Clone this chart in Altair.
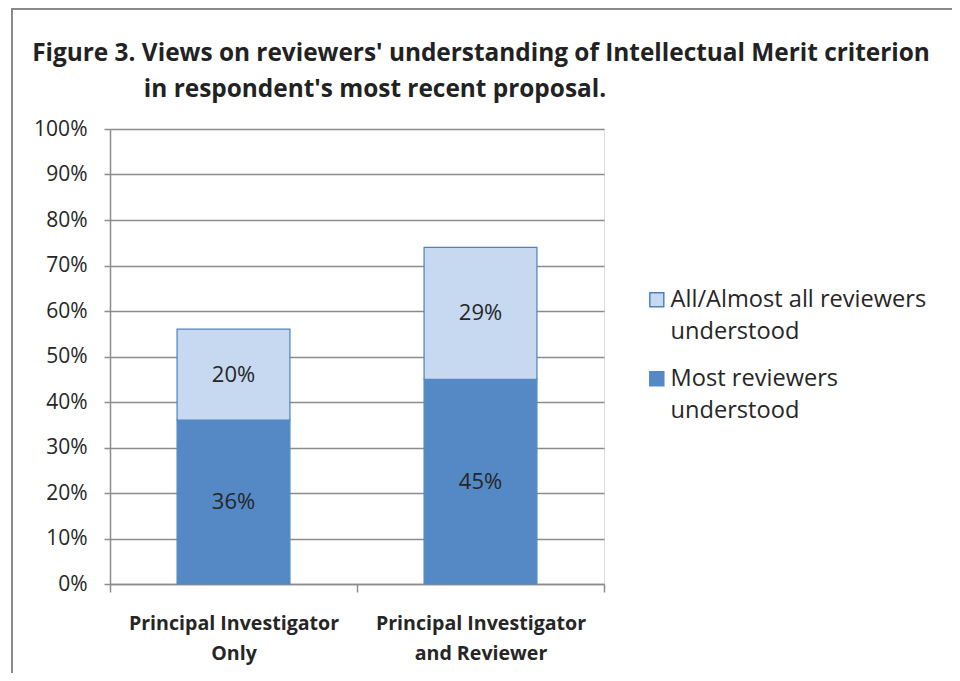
import altair as alt
import pandas as pd

categories = ["Principal Investigator Only", "Principal Investigator and Reviewer"]
series_names = ["All/Almost all reviewers understood", "Most reviewers understood"]
most_values = [36, 45]
all_values = [20, 29]
title_lines = [
    "Figure 3. Views on reviewers' understanding of Intellectual Merit criterion",
    "in respondent's most recent proposal.",
]

rows = []
for c, m, a in zip(categories, most_values, all_values):
    rows.append({"category": c, "series": series_names[1], "value": m, "ord": 0})
    rows.append({"category": c, "series": series_names[0], "value": a, "ord": 1})
df = pd.DataFrame(rows)

LIGHT = "#c6d9f0"
DARK = "#5589c6"
EDGE = "#4f81bd"
GRID = "#8c8c8c"
TXT = "#262626"
FONT = "Open Sans"

x_enc = alt.X(
    "category:N",
    sort=categories,
    scale=alt.Scale(paddingInner=0, paddingOuter=0),
    axis=alt.Axis(
        title=None,
        labelAngle=0,
        labelExpr="datum.label == 'Principal Investigator Only' ? ['Principal Investigator', 'Only'] : datum.label == 'Principal Investigator and Reviewer' ? ['Principal Investigator', 'and Reviewer'] : ''",
        labelFont=FONT,
        labelFontWeight="bold",
        labelFontSize=19.6,
        labelColor=TXT,
        labelLineHeight=30,
        labelBaseline="top",
        labelPadding=22,
        labelLimit=400,
        tickBand="extent",
        tickSize=8,
        tickColor=GRID,
        tickWidth=1.5,
        domainColor=GRID,
        domainWidth=1.5,
    ),
)

legend_fill = alt.Legend(
    title=None,
    orient="none",
    legendX=535,
    legendY=159,
    padding=0,
    symbolType="square",
    symbolSize=196,
    symbolStrokeWidth=1.5,
    labelFont=FONT,
    labelFontSize=23.6,
    labelColor=TXT,
    labelLimit=400,
    labelOffset=2,
    rowPadding=22,
    labelExpr="datum.label == 'Most reviewers understood' ? ['Most reviewers', 'understood'] : ['All/Almost all reviewers', 'understood']",
)

bars = alt.Chart(df).mark_bar(width=alt.RelativeBandSize(0.457), strokeWidth=1.2).encode(
    x=x_enc,
    y=alt.Y(
        "value:Q",
        stack="zero",
        scale=alt.Scale(domain=[0, 100], nice=False),
        axis=alt.Axis(
            title=None,
            values=list(range(0, 101, 10)),
            labelExpr="datum.value + '%'",
            labelFont=FONT,
            labelFontSize=21,
            labelColor=TXT,
            labelPadding=17,
            tickSize=6,
            tickColor=GRID,
            tickWidth=1.5,
            grid=True,
            gridColor=GRID,
            gridWidth=1.5,
            domainColor=GRID,
            domainWidth=1.5,
        ),
    ),
    fill=alt.Fill("series:N", scale=alt.Scale(domain=series_names, range=[LIGHT, DARK]), legend=legend_fill),
    stroke=alt.Stroke("series:N", scale=alt.Scale(domain=series_names, range=[EDGE, DARK]), legend=legend_fill),
    order=alt.Order("ord:Q"),
)

labels = alt.Chart(df).transform_window(
    cum="sum(value)", groupby=["category"], sort=[alt.SortField("ord")]
).transform_calculate(
    mid="datum.cum - datum.value / 2", txt="datum.value + '%'"
).mark_text(font=FONT, fontSize=22, color=TXT, baseline="middle").encode(
    x=alt.X("category:N", sort=categories),
    y=alt.Y("mid:Q"),
    text="txt:N",
)

t1 = alt.Chart(pd.DataFrame({"t": [title_lines[0]]})).mark_text(
    font=FONT, fontSize=24.4, fontWeight="bold", color="#222222", align="center", baseline="middle"
).encode(text="t:N", x=alt.value(371), y=alt.value(-75))
t2 = alt.Chart(pd.DataFrame({"t": [title_lines[1]]})).mark_text(
    font=FONT, fontSize=24.4, fontWeight="bold", color="#222222", align="center", baseline="middle"
).encode(text="t:N", x=alt.value(265), y=alt.value(-39))

frame = alt.Chart(pd.DataFrame({"f": [0]})).mark_rect(
    fillOpacity=0, stroke="#8a8a8a", strokeWidth=2
).encode(x=alt.value(-98), x2=alt.value(900), y=alt.value(-120), y2=alt.value(700))

chart = alt.layer(bars, labels, t1, t2, frame).properties(
    width=494,
    height=455,
    autosize=alt.AutoSizeParams(type="none"),
    padding={"left": 102, "top": 121, "right": 348, "bottom": 89},
).configure_view(stroke=None).configure(
    style={"guide-label": {"lineHeight": 32}}
)

chart.save("out.html", embed_options={"renderer": "svg", "actions": False})
